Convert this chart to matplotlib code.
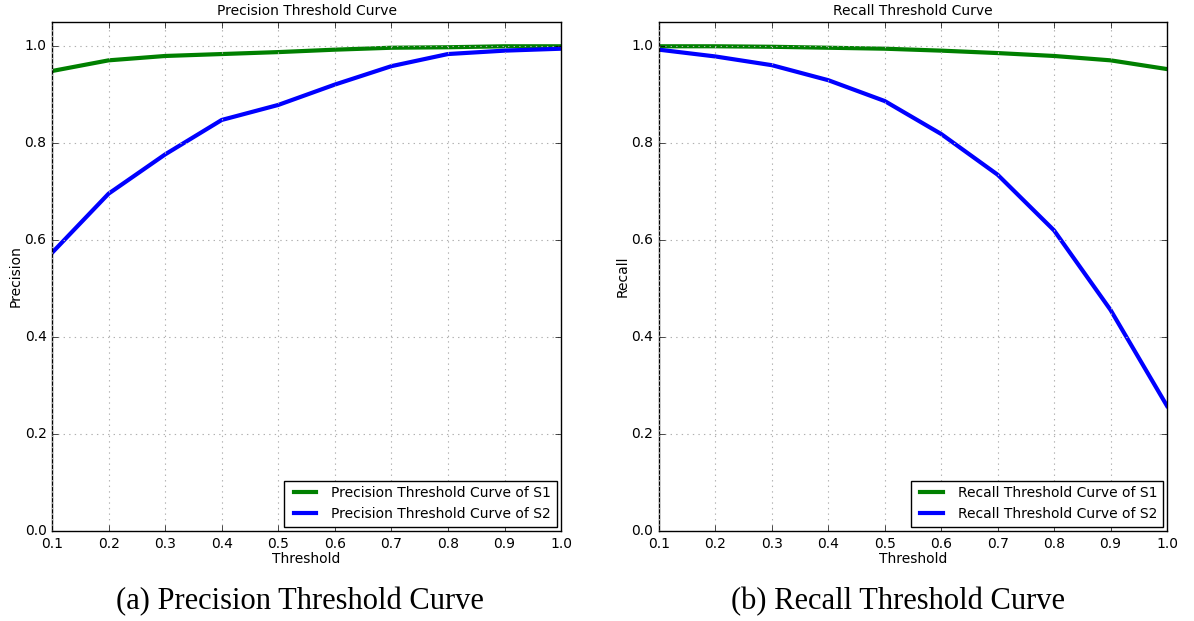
import matplotlib
matplotlib.use("Agg")
import matplotlib.pyplot as plt

thresholds = [0.1, 0.2, 0.3, 0.4, 0.5, 0.6, 0.7, 0.8, 0.9, 1.0]

precision_s1 = [0.949, 0.971, 0.980, 0.984, 0.988, 0.993, 0.997, 0.998, 1.0, 1.0]
precision_s2 = [0.574, 0.696, 0.777, 0.848, 0.879, 0.921, 0.959, 0.984, 0.991, 0.995]

recall_s1 = [1.0, 1.0, 0.999, 0.997, 0.995, 0.991, 0.986, 0.980, 0.971, 0.953]
recall_s2 = [0.993, 0.979, 0.961, 0.930, 0.887, 0.819, 0.735, 0.620, 0.456, 0.258]

xticks = [0.1, 0.2, 0.3, 0.4, 0.5, 0.6, 0.7, 0.8, 0.9, 1.0]
yticks = [0.0, 0.2, 0.4, 0.6, 0.8, 1.0]

plt.style.use('classic')
plt.rcParams['figure.facecolor'] = 'white'
plt.rcParams['savefig.facecolor'] = 'white'
plt.rcParams['font.family'] = 'DejaVu Sans'


def draw_panel(ax, s1, s2, name, ylabel):
    ax.plot(thresholds, s1, color='g', lw=3, label=name + ' Threshold Curve of S1')
    ax.plot(thresholds, s2, color='b', lw=3, label=name + ' Threshold Curve of S2')
    ax.set_xlim(0.1, 1.0)
    ax.set_ylim(0.0, 1.05)
    ax.set_xticks(xticks)
    ax.set_yticks(yticks)
    ax.tick_params(labelsize=10)
    ax.grid(True, color='#b0b0b0', linestyle=':', linewidth=0.8)
    ax.set_title(name + ' Threshold Curve', fontsize=10)
    ax.set_xlabel('Threshold', fontsize=10, labelpad=1)
    ax.set_ylabel(ylabel, fontsize=10, labelpad=1.5)
    leg = ax.legend(loc='lower right', fontsize=10, handlelength=2.2,
                    fancybox=False, borderaxespad=0.3)
    leg.get_frame().set_edgecolor('black')


fig = plt.figure(figsize=(11.94, 6.21), dpi=100)
ax1 = fig.add_axes([0.0436, 0.1449, 0.4263, 0.8196])
ax2 = fig.add_axes([0.5519, 0.1449, 0.4255, 0.8196])

draw_panel(ax1, precision_s1, precision_s2, 'Precision', 'Precision')
draw_panel(ax2, recall_s1, recall_s2, 'Recall', 'Recall')

# sub-figure captions under each panel
fig.text(0.2513, 0.031, '(a) Precision Threshold Curve', ha='center', va='center',
         family='Liberation Serif', fontsize=22)
fig.text(0.7525, 0.031, '(b) Recall Threshold Curve', ha='center', va='center',
         family='Liberation Serif', fontsize=22)

fig.savefig('out.png', dpi=100)
